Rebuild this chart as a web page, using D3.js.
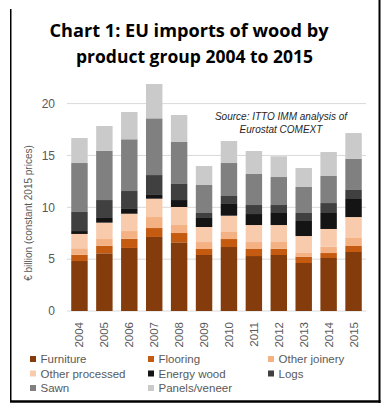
<!DOCTYPE html>
<html>
<head>
<meta charset="utf-8">
<script src="https://cdn.jsdelivr.net/npm/d3@7"></script>
<style>
  html, body { margin: 0; padding: 0; background: #fff; }
  svg { display: block; }
</style>
</head>
<body>
<script>
// Data (€ billion, constant 2015 prices)
const years = ["2004", "2005", "2006", "2007", "2008", "2009", "2010", "2011", "2012", "2013", "2014", "2015"]
const furniture = [4.82, 5.56, 6.08, 7.14, 6.62, 5.40, 6.17, 5.30, 5.40, 4.63, 5.11, 5.69]
const flooring = [0.61, 0.74, 0.89, 0.86, 0.90, 0.58, 0.77, 0.68, 0.61, 0.61, 0.48, 0.58]
const otherJoinery = [0.62, 0.64, 0.74, 1.06, 0.77, 0.67, 0.68, 0.67, 0.64, 0.35, 0.61, 0.77]
const otherProcessed = [1.38, 1.58, 1.67, 1.77, 1.74, 1.45, 1.57, 1.64, 1.64, 1.64, 1.71, 2.02]
const energyWood = [0.28, 0.45, 0.46, 0.36, 0.67, 0.87, 1.13, 1.06, 1.16, 1.45, 1.54, 1.74]
const logs = [1.84, 1.73, 1.73, 1.92, 1.55, 0.48, 0.77, 0.87, 0.77, 0.77, 0.96, 0.87]
const sawn = [4.72, 4.76, 4.99, 5.47, 4.05, 2.70, 3.18, 2.99, 2.70, 2.51, 2.61, 3.02]
const panels = [2.41, 2.38, 2.63, 3.31, 2.60, 1.83, 2.12, 2.22, 2.00, 1.83, 2.31, 2.47]
const yTicks = [0, 5, 10, 15, 20]

const series = [
  { name: "Furniture", values: furniture, color: "#843C0C" },
  { name: "Flooring", values: flooring, color: "#C55A11" },
  { name: "Other joinery", values: otherJoinery, color: "#F4B183" },
  { name: "Other processed", values: otherProcessed, color: "#F8CBAD" },
  { name: "Energy wood", values: energyWood, color: "#141414" },
  { name: "Logs", values: logs, color: "#404040" },
  { name: "Sawn", values: sawn, color: "#808080" },
  { name: "Panels/veneer", values: panels, color: "#CACACA" },
]

// Create SVG
const width = 389, height = 412
const svg = d3.select("body").append("svg")
  .attr("width", width)
  .attr("height", height)
  .attr("font-family", "'Liberation Sans', Arial, sans-serif")

svg.append("rect").attr("width", width).attr("height", height).attr("fill", "#fff")

// Scales
const x = d3.scaleBand().domain(years).range([67, 366]).paddingInner(0.34).paddingOuter(0.17)
const y = d3.scaleLinear().domain([0, 20]).range([311, 103.6])

// Gridlines
svg.append("g")
  .selectAll("line")
  .data(yTicks)
  .join("line")
  .attr("x1", 67)
  .attr("x2", 366)
  .attr("y1", d => y(d))
  .attr("y2", d => y(d))
  .attr("stroke", "#D9D9D9")
  .attr("stroke-width", 1)

// Stack bars
const table = years.map((yr, i) => {
  const row = { year: yr }
  series.forEach(s => { row[s.name] = s.values[i] })
  return row
})
const stacked = d3.stack().keys(series.map(s => s.name))(table)

svg.append("g")
  .selectAll("g")
  .data(stacked)
  .join("g")
  .attr("fill", (d, i) => series[i].color)
  .selectAll("rect")
  .data(d => d)
  .join("rect")
  .attr("x", d => x(d.data.year))
  .attr("width", x.bandwidth())
  .attr("y", d => y(d[1]))
  .attr("height", d => y(d[0]) - y(d[1]))

// Y axis labels
svg.append("g")
  .attr("font-size", "12px")
  .attr("fill", "#595959")
  .attr("text-anchor", "end")
  .selectAll("text")
  .data(yTicks)
  .join("text")
  .attr("x", 55)
  .attr("y", d => y(d))
  .attr("dy", "0.35em")
  .text(d => d)

// X axis labels
svg.append("g")
  .attr("font-size", "11.5px")
  .attr("fill", "#595959")
  .attr("text-anchor", "end")
  .selectAll("text")
  .data(years)
  .join("text")
  .attr("transform", d => `translate(${x(d) + x.bandwidth() / 2},322) rotate(-90)`)
  .attr("dy", "0.35em")
  .text(d => d)

// Y axis title
svg.append("text")
  .attr("transform", "translate(28,213) rotate(-90)")
  .attr("text-anchor", "middle")
  .attr("dy", "0.35em")
  .attr("font-size", "10px")
  .attr("fill", "#595959")
  .text("€ billion (constant 2015 prices)")

// Title
const title = svg.append("g")
  .attr("font-family", "'Open Sans', sans-serif")
  .attr("font-weight", "bold")
  .attr("font-size", "17px")
  .attr("fill", "#000")
  .attr("text-anchor", "middle")
title.append("text").attr("x", 189).attr("y", 37).attr("textLength", 279).attr("lengthAdjust", "spacingAndGlyphs").text("Chart 1: EU imports of wood by")
title.append("text").attr("x", 194.5).attr("y", 63).attr("textLength", 237).attr("lengthAdjust", "spacingAndGlyphs").text("product group 2004 to 2015")

// Source note
const note = svg.append("g")
  .attr("font-style", "italic")
  .attr("font-size", "10px")
  .attr("fill", "#262626")
  .attr("text-anchor", "middle")
note.append("text").attr("x", 281).attr("y", 120).text("Source: ITTO IMM analysis of")
note.append("text").attr("x", 281).attr("y", 132.5).text("Eurostat COMEXT")

// Legend
const legendCols = [30, 148, 268]
const legendRows = [359, 373.5, 388]
svg.append("g")
  .selectAll("g")
  .data(series)
  .join("g")
  .attr("transform", (d, i) => `translate(${legendCols[i % 3]},${legendRows[Math.floor(i / 3)]})`)
  .each(function (d) {
    d3.select(this).append("rect")
      .attr("x", 0).attr("y", -3).attr("width", 6).attr("height", 6)
      .attr("fill", d.color)
    d3.select(this).append("text")
      .attr("x", 10.5)
      .attr("dy", "0.35em")
      .attr("font-size", "11.5px")
      .attr("fill", "#595959")
      .text(d.name)
  })

// Frame
svg.append("line").attr("x1", 10.75).attr("x2", 10.75).attr("y1", 9).attr("y2", 402).attr("stroke", "#000").attr("stroke-width", 1.5)
svg.append("line").attr("x1", 379.5).attr("x2", 379.5).attr("y1", 0).attr("y2", 403).attr("stroke", "#000").attr("stroke-width", 2)
svg.append("line").attr("x1", 10).attr("x2", 380.5).attr("y1", 401.5).attr("y2", 401.5).attr("stroke", "#000").attr("stroke-width", 2.5)
</script>
</body>
</html>
